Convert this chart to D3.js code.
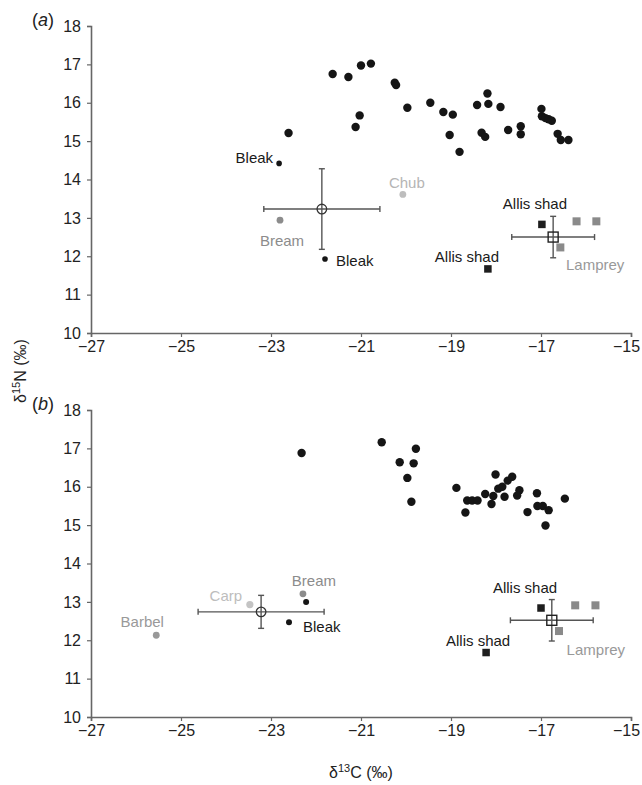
<!DOCTYPE html>
<html>
<head>
<meta charset="utf-8">
<script src="https://cdn.jsdelivr.net/npm/d3@7"></script>
<style>
  body { margin: 0; background: #fff; }
  svg { font-family: "Liberation Sans", Arial, sans-serif; }
</style>
</head>
<body>
<svg width="642" height="785"></svg>
<script>
// ---- data ----
const xTicks = [-27, -25, -23, -21, -19, -17, -15];
const yTicks = [10, 11, 12, 13, 14, 15, 16, 17, 18];

// panel (a)
const clusterA = [
  [-22.61, 15.21], [-21.63, 16.75], [-21.28, 16.67], [-21.0, 16.97], [-20.78, 17.02],
  [-20.25, 16.52], [-20.22, 16.46], [-21.03, 15.67], [-21.12, 15.37], [-19.97, 15.87],
  [-19.46, 16.0], [-19.17, 15.76], [-18.96, 15.69], [-19.03, 15.16], [-18.81, 14.72],
  [-18.42, 15.94], [-18.19, 16.24], [-18.17, 15.97], [-17.9, 15.89], [-18.32, 15.22],
  [-18.24, 15.11], [-17.73, 15.29], [-17.45, 15.39], [-17.45, 15.18], [-16.99, 15.84],
  [-16.98, 15.65], [-16.9, 15.6], [-16.83, 15.57], [-16.76, 15.53], [-16.63, 15.19],
  [-16.56, 15.03], [-16.39, 15.03]
];
const bleakA = [[-22.82, 14.42], [-21.8, 11.93]];
const breamA = [[-22.8, 12.94]];
const chubA = [[-20.07, 13.61]];
const shadA = [[-16.98, 12.83], [-18.18, 11.67]];
const lampreyA = [[-16.21, 12.91], [-15.77, 12.91], [-16.57, 12.23]];
const cyprinidMeanA = [-21.87, 13.23, 1.29, 1.05]; // x, y, sdX, sdY
const migrantMeanA = [-16.73, 12.5, 0.92, 0.54];

// panel (b)
const clusterB = [
  [-22.32, 16.88], [-20.54, 17.16], [-19.78, 16.99], [-20.14, 16.64], [-19.83, 16.61],
  [-19.97, 16.23], [-19.88, 15.61], [-18.88, 15.97], [-18.68, 15.33], [-18.64, 15.64],
  [-18.53, 15.64], [-18.41, 15.64], [-18.24, 15.81], [-18.1, 15.55], [-18.06, 15.76],
  [-18.01, 16.32], [-17.95, 15.95], [-17.86, 16.0], [-17.74, 16.16], [-17.64, 16.26],
  [-17.81, 15.74], [-17.48, 15.91], [-17.53, 15.77], [-17.09, 15.83], [-17.08, 15.5],
  [-16.96, 15.5], [-16.83, 15.39], [-17.3, 15.34], [-16.9, 14.99], [-16.47, 15.69]
];
const bleakB = [[-22.22, 13.0], [-22.6, 12.47]];
const breamB = [[-22.29, 13.21]];
const carpB = [[-23.47, 12.93]];
const barbelB = [[-25.55, 12.13]];
const shadB = [[-17.0, 12.84], [-18.22, 11.68]];
const lampreyB = [[-16.24, 12.91], [-15.79, 12.91], [-16.6, 12.24]];
const cyprinidMeanB = [-23.22, 12.74, 1.40, 0.43];
const migrantMeanB = [-16.76, 12.52, 0.92, 0.54];

// ---- layout ----
const svg = d3.select('svg');
const left = 91, right = 631, ph = 307;

const x = d3.scaleLinear().domain([-27, -15]).range([left, right]);

function panel(top, letter, draw) {
  const y = d3.scaleLinear().domain([10, 18]).range([top + ph, top]);

  const ax = svg.append('g')
    .attr('transform', `translate(0,${top + ph})`)
    .call(d3.axisBottom(x).tickValues(xTicks).tickSizeOuter(0).tickSize(4).tickPadding(4)
      .tickFormat(d => d3.format('')(d).replace('-', '\u2212')));
  const ay = svg.append('g')
    .attr('transform', `translate(${left},0)`)
    .call(d3.axisLeft(y).tickValues(yTicks).tickSizeOuter(0).tickSize(4).tickPadding(6));
  [ax, ay].forEach(a => {
    a.select('.domain').attr('stroke', '#666').attr('stroke-width', 1.6);
    a.selectAll('.tick line').attr('stroke', '#666').attr('stroke-width', 1.2);
    a.selectAll('.tick text').attr('fill', '#222').attr('font-size', 16)
      .attr('font-family', '"Liberation Sans", Arial, sans-serif');
  });
  // keep the last x label inside the page
  ax.selectAll('.tick text').filter(d => d === -15).attr('dx', -5);

  const lt = svg.append('text').attr('x', 32).attr('y', top).attr('font-size', 18).attr('fill', '#222');
  lt.append('tspan').text('(');
  lt.append('tspan').attr('font-style', 'italic').text(letter);
  lt.append('tspan').text(')');

  const g = svg.append('g');
  draw(g, y);
}

function dots(g, y, data, r, color) {
  g.selectAll(null).data(data).enter().append('circle')
    .attr('cx', d => x(d[0])).attr('cy', d => y(d[1])).attr('r', r).attr('fill', color);
}
function squares(g, y, data, s, color) {
  g.selectAll(null).data(data).enter().append('rect')
    .attr('x', d => x(d[0]) - s / 2).attr('y', d => y(d[1]) - s / 2)
    .attr('width', s).attr('height', s).attr('fill', color);
}
function errorMark(g, y, m, shape) {
  const cx = x(m[0]), cy = y(m[1]);
  const x0 = x(m[0] - m[2]), x1 = x(m[0] + m[2]);
  const y0 = y(m[1] - m[3]), y1 = y(m[1] + m[3]);
  const st = '#555', cap = 3;
  const lines = [
    [x0, cy, x1, cy], [cx, y0, cx, y1],
    [x0, cy - cap, x0, cy + cap], [x1, cy - cap, x1, cy + cap],
    [cx - cap, y0, cx + cap, y0], [cx - cap, y1, cx + cap, y1]
  ];
  g.selectAll(null).data(lines).enter().append('line')
    .attr('x1', d => d[0]).attr('y1', d => d[1]).attr('x2', d => d[2]).attr('y2', d => d[3])
    .attr('stroke', st).attr('stroke-width', 1.4);
  if (shape === 'circle') {
    g.append('circle').attr('cx', cx).attr('cy', cy).attr('r', 4.8)
      .attr('fill', 'none').attr('stroke', '#333').attr('stroke-width', 1.3);
  } else {
    g.append('rect').attr('x', cx - 5).attr('y', cy - 5).attr('width', 10).attr('height', 10)
      .attr('fill', 'none').attr('stroke', '#222').attr('stroke-width', 1.4);
  }
}
function label(g, y, pt, txt, dx, dy, anchor, color) {
  g.append('text').attr('x', x(pt[0]) + dx).attr('y', y(pt[1]) + dy)
    .attr('text-anchor', anchor).attr('font-size', 15).attr('fill', color).text(txt);
}

panel(26, 'a', (g, y) => {
  errorMark(g, y, cyprinidMeanA, 'circle');
  errorMark(g, y, migrantMeanA, 'square');
  dots(g, y, clusterA, 4.2, '#151515');
  dots(g, y, bleakA, 2.8, '#151515');
  dots(g, y, breamA, 3.4, '#8c8c8c');
  dots(g, y, chubA, 3.4, '#bdbdbd');
  squares(g, y, shadA, 7.5, '#1e1e1e');
  squares(g, y, lampreyA, 8, '#8a8a8a');

  label(g, y, bleakA[0], 'Bleak', -6, 0, 'end', '#1a1a1a');
  label(g, y, bleakA[1], 'Bleak', 11, 7, 'start', '#1a1a1a');
  label(g, y, breamA[0], 'Bream', 2, 26, 'middle', '#8c8c8c');
  label(g, y, chubA[0], 'Chub', 4, -6, 'middle', '#b5b5b5');
  label(g, y, shadA[0], 'Allis shad', -7, -15, 'middle', '#1a1a1a');
  label(g, y, shadA[1], 'Allis shad', -21, -7, 'middle', '#1a1a1a');
  label(g, y, migrantMeanA, 'Lamprey', 42, 33, 'middle', '#999');
});

panel(410, 'b', (g, y) => {
  errorMark(g, y, cyprinidMeanB, 'circle');
  errorMark(g, y, migrantMeanB, 'square');
  dots(g, y, clusterB, 4.2, '#151515');
  dots(g, y, bleakB, 3, '#151515');
  dots(g, y, breamB, 3.4, '#8c8c8c');
  dots(g, y, carpB, 3.6, '#c4c4c4');
  dots(g, y, barbelB, 3.4, '#999');
  squares(g, y, shadB, 7.5, '#1e1e1e');
  squares(g, y, lampreyB, 8, '#8a8a8a');

  label(g, y, barbelB[0], 'Barbel', -14, -8, 'middle', '#999');
  label(g, y, carpB[0], 'Carp', -24, -4, 'middle', '#bdbdbd');
  label(g, y, breamB[0], 'Bream', 11, -8, 'middle', '#8c8c8c');
  label(g, y, bleakB[1], 'Bleak', 14, 10, 'start', '#1a1a1a');
  label(g, y, shadB[0], 'Allis shad', -16, -15, 'middle', '#1a1a1a');
  label(g, y, shadB[1], 'Allis shad', -8, -7, 'middle', '#1a1a1a');
  label(g, y, migrantMeanB, 'Lamprey', 44, 35, 'middle', '#999');
});

// axis titles
const xt = svg.append('text').attr('x', 361).attr('y', 778).attr('text-anchor', 'middle')
  .attr('font-size', 16).attr('fill', '#222');
xt.append('tspan').text('\u03b4');
xt.append('tspan').attr('dy', -6).attr('font-size', 11).text('13');
xt.append('tspan').attr('dy', 6).text('C (\u2030)');

const yt = svg.append('text').attr('transform', 'translate(26,371) rotate(-90)')
  .attr('text-anchor', 'middle').attr('font-size', 16).attr('fill', '#222');
yt.append('tspan').text('\u03b4');
yt.append('tspan').attr('dy', -6).attr('font-size', 11).text('15');
yt.append('tspan').attr('dy', 6).text('N (\u2030)');
</script>
</body>
</html>
